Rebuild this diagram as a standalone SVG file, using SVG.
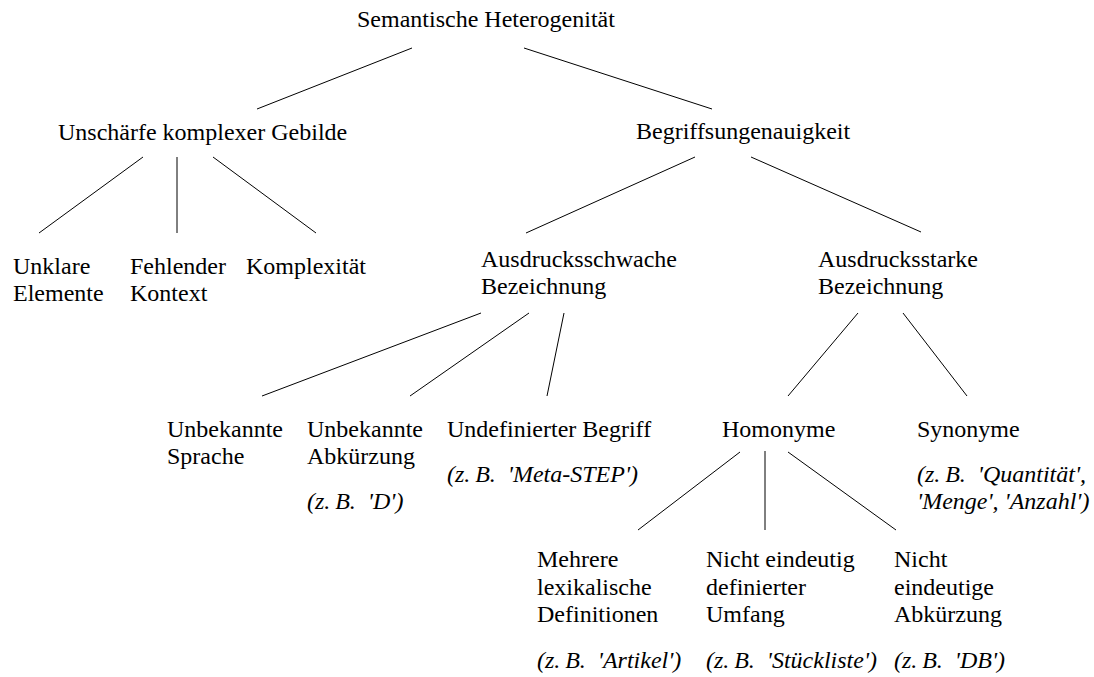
<svg xmlns="http://www.w3.org/2000/svg" width="1094" height="677" viewBox="0 0 1094 677">
<style>
text{font-family:'Liberation Serif','Times New Roman',Tinos,'DejaVu Serif',serif;font-size:24px;fill:#000}
.ex{font-style:italic}
.c line{stroke:#000;stroke-width:1;fill:none}
</style>
<rect width="1094" height="677" fill="#fff"/>
<g class="c" id="connectors">
<line x1="412" y1="48" x2="257" y2="109"/>
<line x1="524" y1="48" x2="712" y2="109"/>
<line x1="143" y1="157" x2="39" y2="233"/>
<line x1="177" y1="157" x2="177" y2="233"/>
<line x1="213" y1="157" x2="316" y2="233"/>
<line x1="695" y1="157" x2="526" y2="233"/>
<line x1="751" y1="157" x2="921" y2="232"/>
<line x1="481" y1="313" x2="262" y2="396"/>
<line x1="529" y1="313" x2="410" y2="396"/>
<line x1="564" y1="313" x2="547" y2="396"/>
<line x1="858" y1="313" x2="788" y2="396"/>
<line x1="903" y1="313" x2="967" y2="396"/>
<line x1="740" y1="452" x2="638" y2="530"/>
<line x1="765" y1="451" x2="765" y2="530"/>
<line x1="788" y1="452" x2="896" y2="530"/>
</g>
<g font-family="Liberation Serif, Times New Roman, serif" font-size="24">
<g id="root"><text x="357" y="27">Semantische Heterogenität</text></g>
<g id="unschaerfe"><text x="58" y="140">Unschärfe komplexer Gebilde</text></g>
<g id="begriff"><text x="636" y="139">Begriffsungenauigkeit</text></g>
<g id="unklar"><text x="13" y="274">Unklare</text><text x="13" y="301">Elemente</text></g>
<g id="fehlend"><text x="130" y="274">Fehlender</text><text x="130" y="301">Kontext</text></g>
<g id="komplex"><text x="246" y="274">Komplexität</text></g>
<g id="schwach"><text x="481" y="267">Ausdrucksschwache</text><text x="481" y="294">Bezeichnung</text></g>
<g id="stark"><text x="818" y="267">Ausdrucksstarke</text><text x="818" y="294">Bezeichnung</text></g>
<g id="sprache"><text x="167" y="437">Unbekannte</text><text x="167" y="464">Sprache</text></g>
<g id="abk"><text x="307" y="437">Unbekannte</text><text x="307" y="464">Abkürzung</text><text class="ex" x="307" y="509">(z.&#8201;B.&#160; 'D')</text></g>
<g id="undef"><text x="447" y="437">Undefinierter Begriff</text><text class="ex" x="447" y="482">(z.&#8201;B.&#160; 'Meta-STEP')</text></g>
<g id="homonyme"><text x="722" y="437">Homonyme</text></g>
<g id="synonyme"><text x="917" y="437">Synonyme</text><text class="ex" x="917" y="482">(z.&#8201;B.&#160; 'Quantität',</text><text class="ex" x="917" y="509">'Menge', 'Anzahl')</text></g>
<g id="mehrere"><text x="537" y="567">Mehrere</text><text x="537" y="595">lexikalische</text><text x="537" y="622">Definitionen</text><text class="ex" x="537" y="668">(z.&#8201;B.&#160; 'Artikel')</text></g>
<g id="umfang"><text x="706" y="567">Nicht eindeutig</text><text x="706" y="595">definierter</text><text x="706" y="622">Umfang</text><text class="ex" x="706" y="668">(z.&#8201;B.&#160; 'Stückliste')</text></g>
<g id="nabk"><text x="894" y="567">Nicht</text><text x="894" y="595">eindeutige</text><text x="894" y="622">Abkürzung</text><text class="ex" x="894" y="668">(z.&#8201;B.&#160; 'DB')</text></g>
</g>
</svg>
